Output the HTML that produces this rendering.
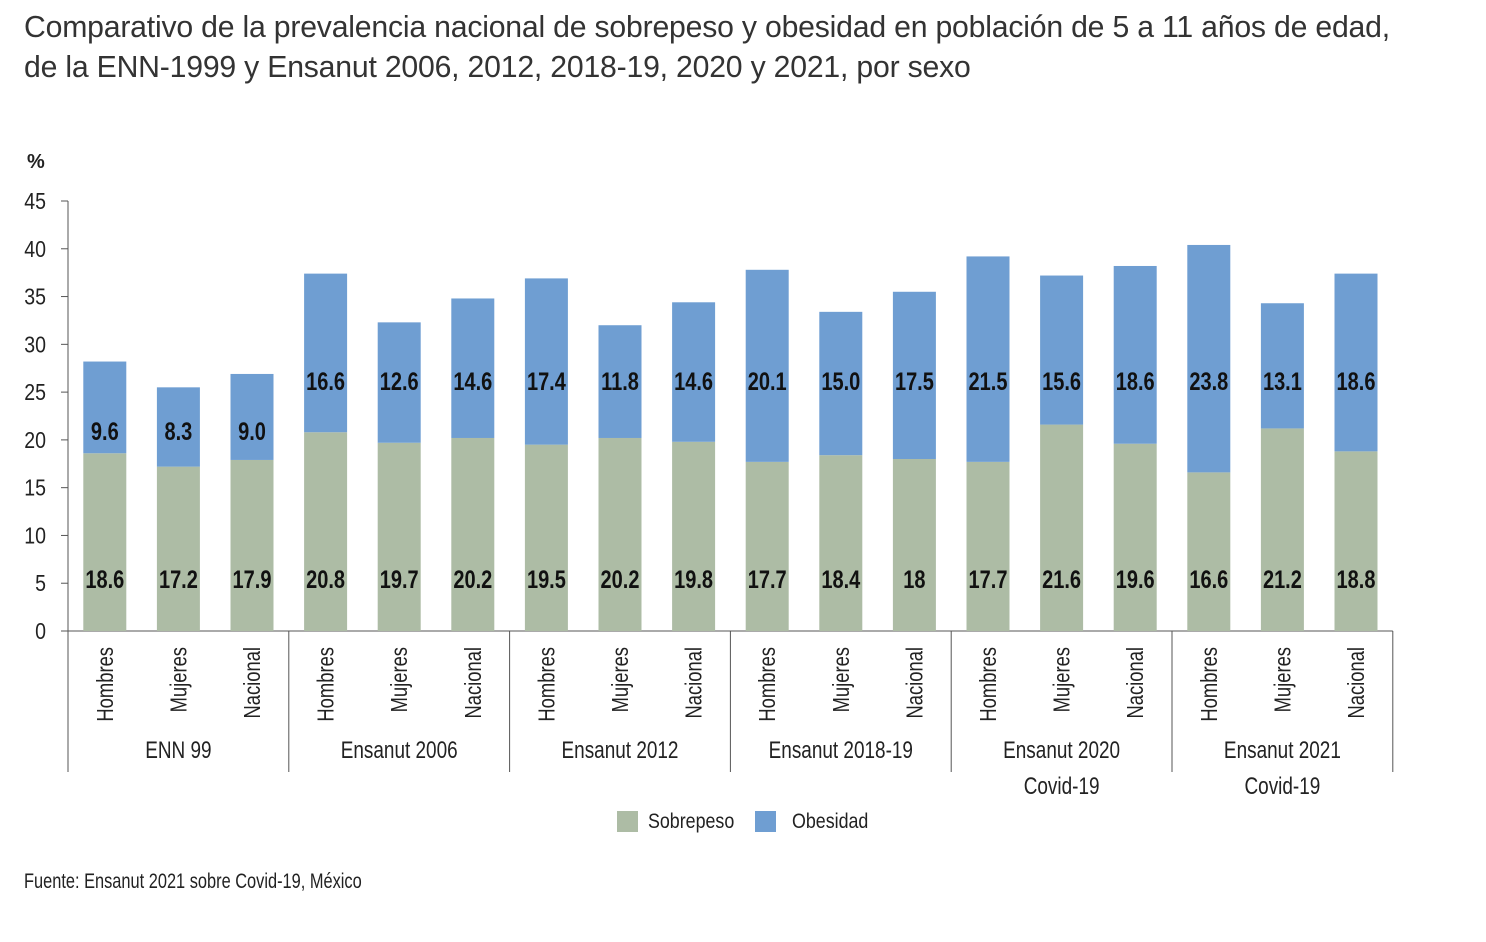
<!DOCTYPE html>
<html><head><meta charset="utf-8"><style>
body{margin:0;background:#fff;width:1486px;height:942px;overflow:hidden;font-family:"Liberation Sans",sans-serif;}
#t{position:absolute;left:24px;top:8px;font-size:30.2px;color:#333;line-height:40px;letter-spacing:-0.2px;white-space:nowrap}
svg{position:absolute;left:0;top:0}
</style></head><body>
<div id="t">Comparativo de la prevalencia nacional de sobrepeso y obesidad en población de 5 a 11 años de edad,<br>de la ENN-1999 y Ensanut 2006, 2012, 2018-19, 2020 y 2021, por sexo</div>
<svg id="c" width="1486" height="942"></svg>
<script>
const groups=[["ENN 99"],["Ensanut 2006"],["Ensanut 2012"],["Ensanut 2018-19"],["Ensanut 2020","Covid-19"],["Ensanut 2021","Covid-19"]];
const sexes=["Hombres","Mujeres","Nacional"];
const sobrepeso=[18.6,17.2,17.9,20.8,19.7,20.2,19.5,20.2,19.8,17.7,18.4,18,17.7,21.6,19.6,16.6,21.2,18.8];
const sobreLabels=["18.6","17.2","17.9","20.8","19.7","20.2","19.5","20.2","19.8","17.7","18.4","18","17.7","21.6","19.6","16.6","21.2","18.8"];
const obesidad=[9.6,8.3,9.0,16.6,12.6,14.6,17.4,11.8,14.6,20.1,15.0,17.5,21.5,15.6,18.6,23.8,13.1,18.6];
const obeLabels=["9.6","8.3","9.0","16.6","12.6","14.6","17.4","11.8","14.6","20.1","15.0","17.5","21.5","15.6","18.6","23.8","13.1","18.6"];
const yTicks=[0,5,10,15,20,25,30,35,40,45];
const NS="http://www.w3.org/2000/svg",svg=document.getElementById('c');
const x0=68,slot=73.6,bw=43,y0=631,ppu=430/45;
const y=v=>y0-v*ppu, xc=i=>x0+slot*(i+0.5);
function el(t,a,txt){const e=document.createElementNS(NS,t);for(const k in a)e.setAttribute(k,a[k]);if(txt!=null)e.textContent=txt;svg.appendChild(e);return e;}
function tx(x,yy,sx,a,txt,rot){a.x=0;a.y=0;a.transform=`translate(${x},${yy})`+(rot?` rotate(${rot})`:'')+` scale(${sx},1)`;return el('text',a,txt);}
let e=el('text',{x:27,y:168,'font-size':20,'font-weight':'bold',fill:'#222'},'%');

e=el('line',{x1:x0,y1:y(45),x2:x0,y2:y0,stroke:'#555','stroke-width':1});

yTicks.forEach(v=>{
 e=el('line',{x1:x0-7,y1:y(v),x2:x0,y2:y(v),stroke:'#555'});
 
 e=tx(46,y(v)+8,0.85,{'font-size':23,'text-anchor':'end',fill:'#222'},v);
 
});
const N=sobrepeso.length;
e=el('line',{x1:x0,y1:y0,x2:x0+slot*N,y2:y0,stroke:'#555'});

for(let i=0;i<N;i++){
 const c=xc(i),s=sobrepeso[i],o=obesidad[i];
 e=el('rect',{x:c-bw/2,y:y(s),width:bw,height:s*ppu,fill:'#adbca5'});
 
 e=el('rect',{x:c-bw/2,y:y(s+o),width:bw,height:o*ppu,fill:'#6f9ed2'});
 
 e=tx(c,588,0.8,{'font-size':25,'font-weight':'bold','text-anchor':'middle',fill:'#111'},sobreLabels[i]);
 
 e=tx(c,i<3?440:390,0.8,{'font-size':25,'font-weight':'bold','text-anchor':'middle',fill:'#111'},obeLabels[i]);
 
 e=tx(c+8,647,0.8,{'font-size':23,'text-anchor':'end',fill:'#222'},sexes[i%3],-90);
 
}
for(let g=0;g<=groups.length;g++){
 const gx=x0+slot*3*g;
 e=el('line',{x1:gx,y1:y0,x2:gx,y2:772,stroke:'#555'});
 
}
groups.forEach((g,k)=>{
 const gc=x0+slot*3*(k+0.5);
 g.forEach((l,j)=>{
  e=tx(gc,758+j*36,0.79,{'font-size':24,'text-anchor':'middle',fill:'#222'},l);
  
 });
});
e=el('rect',{x:617,y:811,width:21,height:21,fill:'#adbca5'});

e=tx(648,828,0.85,{'font-size':21,fill:'#222'},'Sobrepeso');

e=el('rect',{x:755,y:811,width:21,height:21,fill:'#6f9ed2'});

e=tx(792,828,0.85,{'font-size':21,fill:'#222'},'Obesidad');

e=tx(24,888,0.78,{'font-size':21,fill:'#222'},'Fuente: Ensanut 2021 sobre Covid-19, México');

</script>
</body></html>
